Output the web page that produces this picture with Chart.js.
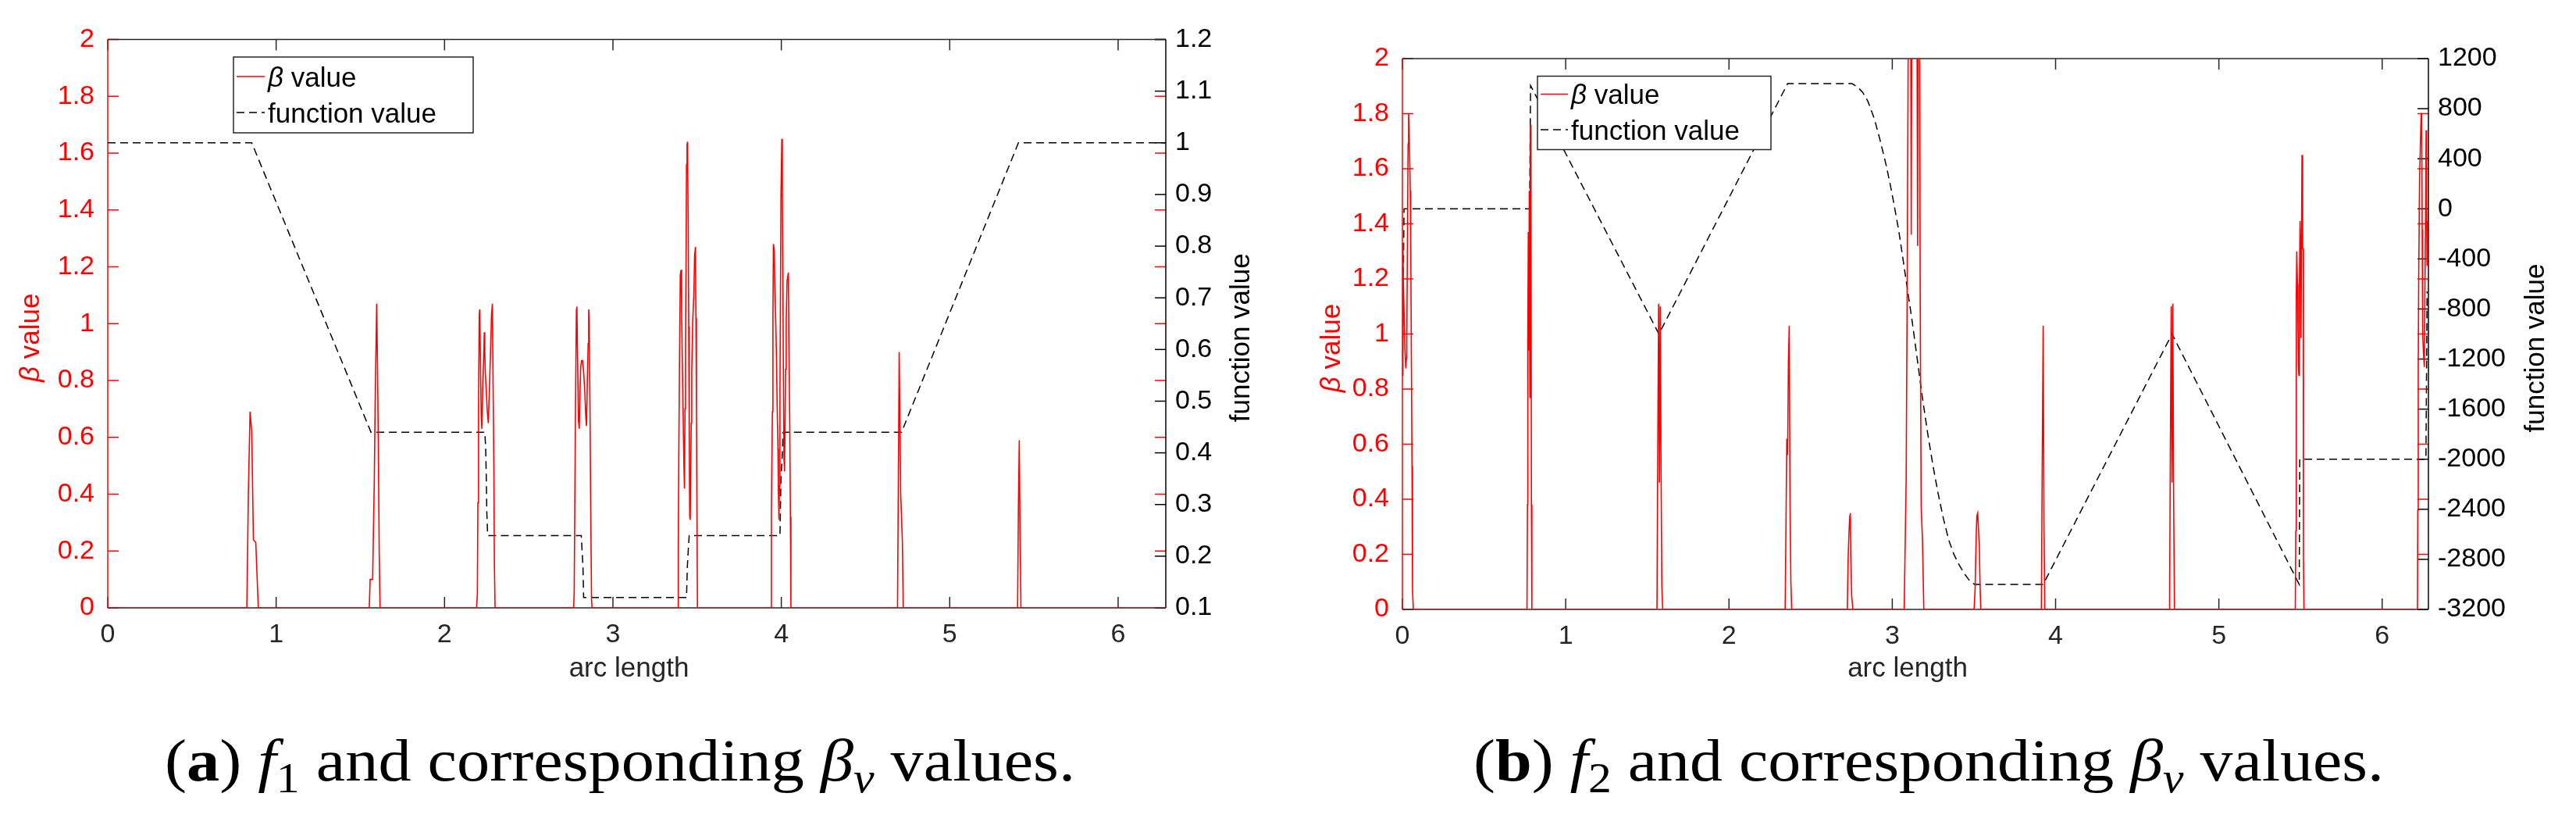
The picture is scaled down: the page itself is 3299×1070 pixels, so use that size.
<!DOCTYPE html>
<html><head><meta charset="utf-8">
<script src="https://cdn.jsdelivr.net/npm/chart.js@4.4.1/dist/chart.umd.min.js"></script>
<style>
html,body{margin:0;padding:0;background:#fff;width:3299px;height:1070px;overflow:hidden}
canvas{position:absolute;top:0}
#ca{left:0}
#cb{left:1650px}
</style></head><body>
<canvas id="ca" width="1650" height="1070"></canvas>
<canvas id="cb" width="1649" height="1070"></canvas>
<script>
// ---------- tick values ----------
const xTicks = [0, 1, 2, 3, 4, 5, 6];
const betaTicks = [0, 0.2, 0.4, 0.6, 0.8, 1, 1.2, 1.4, 1.6, 1.8, 2];
const funcTicksA = [0.1, 0.2, 0.3, 0.4, 0.5, 0.6, 0.7, 0.8, 0.9, 1, 1.1, 1.2];
const funcTicksB = [-3200, -2800, -2400, -2000, -1600, -1200, -800, -400, 0, 400, 800, 1200];
const X_MAX = 2 * Math.PI;

// ---------- (a) beta values [arc length, beta] ----------
const betaA = [
[0,0],[0.826,0],[0.835,0.40],[0.845,0.69],[0.855,0.62],[0.865,0.24],[0.879,0.23],[0.894,0],
[1.553,0],[1.558,0.10],[1.573,0.10],[1.583,0.45],[1.588,0.72],[1.597,1.07],[1.602,0.85],[1.607,0.56],[1.612,0.2],[1.617,0],
[2.19,0],[2.195,0.05],[2.198,0.37],[2.202,0.70],[2.206,1.03],[2.209,1.05],[2.212,0.92],[2.218,0.67],[2.222,0.63],[2.227,0.78],[2.233,0.89],[2.236,0.97],[2.239,0.90],[2.242,0.83],[2.248,0.76],[2.254,0.69],[2.260,0.65],[2.267,0.78],[2.273,0.90],[2.279,1.03],[2.284,1.07],[2.288,0.81],[2.293,0.49],[2.296,0.16],[2.300,0],
[2.767,0],[2.770,0.06],[2.774,0.39],[2.778,0.72],[2.783,1.05],[2.786,1.06],[2.789,0.93],[2.795,0.66],[2.800,0.63],[2.805,0.77],[2.809,0.85],[2.814,0.87],[2.820,0.87],[2.826,0.83],[2.833,0.76],[2.839,0.67],[2.843,0.64],[2.848,0.80],[2.853,0.93],[2.856,1.05],[2.859,1.01],[2.864,0.69],[2.868,0.35],[2.873,0.03],[2.876,0],
[3.386,0],[3.388,0.19],[3.391,0.52],[3.395,0.84],[3.400,1.17],[3.405,1.19],[3.408,1.05],[3.412,0.87],[3.417,0.67],[3.422,0.49],[3.425,0.42],[3.428,0.70],[3.431,0.93],[3.434,1.20],[3.437,1.56],[3.440,1.63],[3.443,1.64],[3.447,1.35],[3.450,0.99],[3.453,0.64],[3.456,0.32],[3.459,0.31],[3.462,0.48],[3.465,0.65],[3.468,0.83],[3.474,1.01],[3.481,1.11],[3.485,1.24],[3.490,1.27],[3.493,1.02],[3.496,0.69],[3.499,0.33],[3.502,0],
[3.940,0],[3.941,0.34],[3.947,0.69],[3.950,1.01],[3.953,1.28],[3.958,1.26],[3.961,1.15],[3.966,1.03],[3.971,0.89],[3.975,0.72],[3.980,0.56],[3.983,0.40],[3.986,0.31],[3.989,0.43],[3.992,0.76],[3.995,1.11],[3.998,1.45],[4.003,1.65],[4.006,1.48],[4.009,1.18],[4.012,0.84],[4.016,0.52],[4.019,0.48],[4.022,0.62],[4.025,0.84],[4.029,1.01],[4.034,1.15],[4.042,1.18],[4.045,0.92],[4.050,0.65],[4.054,0.32],[4.057,0],
[4.690,0],[4.700,0.90],[4.709,0.40],[4.719,0.23],[4.724,0],
[5.403,0],[5.408,0.36],[5.413,0.59],[5.418,0.25],[5.423,0],
[6.2832,0]
];
// ---------- (a) function value f1 [arc length, f] ----------
const funcA = [
[0,1],[0.855,1],[1.563,0.44],[2.239,0.44],[2.244,0.413],[2.248,0.35],[2.251,0.286],[2.256,0.24],
[2.812,0.24],[2.816,0.215],[2.822,0.18],[2.826,0.12],[3.437,0.12],[3.442,0.18],[3.448,0.215],[3.453,0.24],
[3.992,0.24],[3.998,0.35],[4.005,0.392],[4.011,0.44],[4.714,0.44],[5.408,1],[6.2832,1]
];

// ---------- (b) beta values ----------
const betaB = [
[0,0.85],[0.003,1.33],[0.006,1.19],[0.011,1.06],[0.016,0.94],[0.021,0.875],[0.024,0.91],[0.027,0.99],[0.030,1.26],[0.035,1.69],[0.038,1.80],[0.041,1.74],[0.045,1.63],[0.048,1.52],[0.051,1.34],[0.054,1.02],[0.059,0.52],[0.062,0.07],[0.067,0],
[0.763,0],[0.766,0.38],[0.768,0.95],[0.771,1.37],[0.774,0.94],[0.777,1.52],[0.781,0.77],[0.782,1.76],[0.784,0.80],[0.787,1.76],[0.790,0.38],[0.793,0],
[1.559,0],[1.564,0.6],[1.569,1.11],[1.574,0.46],[1.579,1.10],[1.584,0.5],[1.589,0.08],[1.594,0],
[2.344,0],[2.349,0.3],[2.354,0.62],[2.359,0.56],[2.364,0.9],[2.369,1.03],[2.374,0.37],[2.379,0.1],[2.384,0],
[2.722,0],[2.725,0.02],[2.730,0.19],[2.735,0.28],[2.740,0.34],[2.743,0.35],[2.746,0.19],[2.751,0.05],[2.759,0],
[3.073,0],[3.078,0.20],[3.085,0.47],[3.091,1.13],[3.096,1.82],[3.100,2.5],[3.105,2.5],[3.112,2.5],[3.116,1.36],[3.121,2.5],[3.150,2.5],[3.155,1.32],[3.159,2.5],[3.166,2.5],[3.171,1.13],[3.177,0.375],[3.185,0.25],[3.193,0],
[3.501,0],[3.507,0.07],[3.514,0.27],[3.518,0.34],[3.523,0.35],[3.528,0.29],[3.533,0.23],[3.537,0.10],[3.542,0],
[3.913,0],[3.918,0.5],[3.924,1.03],[3.929,0.3],[3.934,0],
[4.698,0],[4.703,0.6],[4.708,1.10],[4.713,0.46],[4.718,1.11],[4.723,0.4],[4.728,0],
[5.468,0],[5.471,0.285],[5.474,1.13],[5.477,1.30],[5.481,1.18],[5.484,1.04],[5.487,0.88],[5.490,0.85],[5.493,1.15],[5.497,1.41],[5.500,1.31],[5.503,0.985],[5.506,1.31],[5.509,1.65],[5.513,1.31],[5.516,1.31],[5.518,0.195],[5.521,0],
[6.216,0],[6.218,0.36],[6.221,0.88],[6.224,1.24],[6.229,1.56],[6.234,1.69],[6.239,1.80],[6.242,1.80],[6.245,1.38],[6.248,1.0],[6.253,0.93],[6.258,0.88],[6.263,1.25],[6.266,1.45],[6.269,1.74],[6.272,1.45],[6.275,1.25],[6.278,1.41],[6.2832,1.2]
];
// ---------- (b) function value f2 ----------
const funcB = [
[0,-1330],[0.01,0],[0.779,0],[0.785,985],[1.571,-1000],[2.359,1000],[2.754,1000],[2.786,974],[2.818,932],[2.850,861],
[2.890,720],[2.925,550],[2.962,352],[2.989,183],[3.010,41],[3.041,-185],[3.073,-467],[3.097,-680],[3.121,-891],
[3.153,-1202],[3.185,-1513],[3.217,-1795],[3.249,-2050],[3.281,-2276],[3.313,-2474],[3.345,-2643],[3.376,-2756],
[3.408,-2841],[3.440,-2912],[3.472,-2968],[3.504,-3000],[3.924,-3000],[4.713,-1000],[5.492,-3000],[5.495,-2000],
[6.268,-2000],[6.275,-660]
];

const SANS = '"Liberation Sans", Arial, Helvetica, sans-serif';
const SERIF = '"Liberation Serif", "Times New Roman", serif';
const RED = '#ff0000';
const AX = '#262626';

function fmt1(v){ return String(parseFloat(Number(v).toFixed(1))); }
function fmt0(v){ return String(Math.round(v)); }

function seg(ctx,x0,y0,x1,y1){ ctx.beginPath(); ctx.moveTo(x0,y0); ctx.lineTo(x1,y1); ctx.stroke(); }

function drawParts(ctx, parts, x, y, align){
  let w = 0;
  parts.forEach(p => { ctx.font = p.f; p.w = ctx.measureText(p.t).width; w += p.w; });
  let cx = align === 'center' ? x - w/2 : x;
  parts.forEach(p => { ctx.font = p.f; ctx.fillText(p.t, cx, y + (p.dy || 0)); cx += p.w; });
  return w;
}

function betaParts(size){
  return [{t:'\u03B2', f:'italic ' + size + 'px ' + SANS}, {t:' value', f:size + 'px ' + SANS}];
}

function makeChart(spec){
  const a = spec.area;
  const plugin = {
    id: 'frame' + spec.id,
    beforeDatasetsDraw(chart){
      const ctx = chart.ctx, ca = chart.chartArea, s = chart.scales;
      const TL = 14;
      ctx.save();
      ctx.lineWidth = 1.5;
      ctx.strokeStyle = AX;
      xTicks.forEach(v => { const p = s.x.getPixelForValue(v); seg(ctx,p,ca.bottom,p,ca.bottom-TL); seg(ctx,p,ca.top,p,ca.top+TL); });
      ctx.strokeStyle = RED;
      betaTicks.forEach(v => { const p = s.yL.getPixelForValue(v); seg(ctx,ca.left,p,ca.left+TL,p); seg(ctx,ca.right-TL,p,ca.right,p); });
      ctx.strokeStyle = '#000';
      spec.funcTicks.forEach(v => { const p = s.yR.getPixelForValue(v); seg(ctx,ca.right-TL,p,ca.right,p); });
      ctx.strokeStyle = AX;
      seg(ctx,ca.left,ca.top,ca.right,ca.top);
      seg(ctx,ca.left,ca.bottom,ca.right,ca.bottom);
      ctx.strokeStyle = '#000';
      seg(ctx,ca.right,ca.top,ca.right,ca.bottom);
      ctx.strokeStyle = RED;
      seg(ctx,ca.left,ca.top,ca.left,ca.bottom);
      ctx.restore();
    },
    afterDraw(chart){
      const ctx = chart.ctx, ca = chart.chartArea;
      const cy = (ca.top + ca.bottom)/2 + 18;
      ctx.save();
      ctx.textBaseline = 'middle';
      // left axis title
      ctx.save(); ctx.translate(spec.leftTitleX, cy); ctx.rotate(-Math.PI/2);
      ctx.fillStyle = RED; drawParts(ctx, betaParts(35), 0, 0, 'center'); ctx.restore();
      // right axis title
      ctx.save(); ctx.translate(spec.rightTitleX, cy); ctx.rotate(-Math.PI/2);
      ctx.fillStyle = '#000'; drawParts(ctx, [{t:'function value', f:'35px ' + SANS}], 0, 0, 'center'); ctx.restore();
      // x axis title
      ctx.textBaseline = 'alphabetic';
      ctx.fillStyle = AX;
      drawParts(ctx, [{t:'arc length', f:'35px ' + SANS}], (ca.left + ca.right)/2 - 10, 866, 'center');
      // legend
      const L = spec.legend;
      ctx.fillStyle = '#fff'; ctx.fillRect(L.x, L.y, L.w, L.h);
      ctx.lineWidth = 1.5; ctx.strokeStyle = AX; ctx.strokeRect(L.x, L.y, L.w, L.h);
      ctx.strokeStyle = RED; ctx.lineWidth = 1.6; seg(ctx, L.lx0, L.r1, L.lx1, L.r1);
      ctx.strokeStyle = '#000'; ctx.lineWidth = 1.5; ctx.setLineDash([10,6]); seg(ctx, L.lx0, L.r2, L.lx1, L.r2); ctx.setLineDash([]);
      ctx.fillStyle = '#000';
      drawParts(ctx, betaParts(35), L.tx, L.r1 + 12.7, 'left');
      drawParts(ctx, [{t:'function value', f:'35px ' + SANS}], L.tx, L.r2 + 12.7, 'left');
      // caption
      const C = spec.caption, fs = 76, ss = 54;
      const parts = [
        {t:'(', f:fs + 'px ' + SERIF},
        {t:C.label, f:'bold ' + fs + 'px ' + SERIF},
        {t:') ', f:fs + 'px ' + SERIF},
        {t:'f', f:'italic ' + fs + 'px ' + SERIF},
        {t:C.sub, f:ss + 'px ' + SERIF, dy:15},
        {t:' and corresponding ', f:fs + 'px ' + SERIF},
        {t:'\u03B2', f:'italic ' + fs + 'px ' + SERIF},
        {t:'v', f:'italic ' + ss + 'px ' + SERIF, dy:15},
        {t:' values.', f:fs + 'px ' + SERIF}
      ];
      let w = 0;
      parts.forEach(p => { ctx.font = p.f; w += ctx.measureText(p.t).width; });
      ctx.save();
      ctx.translate(C.x, C.y); ctx.scale(C.w / w, 1);
      ctx.fillStyle = '#000';
      drawParts(ctx, parts, 0, 0, 'left');
      ctx.restore();
      ctx.restore();
    }
  };

  const tickFont = {family: SANS, size: 34};
  return new Chart(document.getElementById(spec.canvas), {
    type: 'line',
    data: {
      datasets: [
        {label: '\u03B2 value', data: spec.beta.map(([x,y]) => ({x, y})), yAxisID: 'yL',
         borderColor: RED, borderWidth: 1.6, pointRadius: 0, tension: 0, fill: false, order: 1},
        {label: 'function value', data: spec.func.map(([x,y]) => ({x, y})), yAxisID: 'yR',
         borderColor: '#000', borderWidth: 1.5, borderDash: [10,6], pointRadius: 0, tension: 0, fill: false, order: 2}
      ]
    },
    options: {
      responsive: false, animation: false, events: [],
      layout: {padding: {top: a.top, left: 0, right: 0, bottom: 0}},
      plugins: {legend: {display: false}, tooltip: {enabled: false}},
      scales: {
        x: {type: 'linear', position: 'bottom', min: 0, max: X_MAX,
            grid: {display: false, drawTicks: false}, border: {display: false},
            ticks: {font: tickFont, color: AX, padding: 14, maxRotation: 0, autoSkip: false, includeBounds: false, callback: v => fmt0(v)},
            afterBuildTicks: s => { s.ticks = xTicks.map(v => ({value: v})); },
            afterFit: s => { s.height = spec.H - a.bottom; }},
        yL: {type: 'linear', position: 'left', min: 0, max: 2,
            grid: {display: false, drawTicks: false}, border: {display: false},
            ticks: {font: tickFont, color: RED, padding: 17, autoSkip: false, callback: v => fmt1(v)},
            afterBuildTicks: s => { s.ticks = betaTicks.map(v => ({value: v})); },
            afterFit: s => { s.width = a.left; }},
        yR: {type: 'linear', position: 'right', min: spec.funcMin, max: spec.funcMax,
            grid: {display: false, drawTicks: false}, border: {display: false},
            ticks: {font: tickFont, color: '#000', padding: 12, autoSkip: false, callback: v => spec.funcFmt(v)},
            afterBuildTicks: s => { s.ticks = spec.funcTicks.map(v => ({value: v})); },
            afterFit: s => { s.width = spec.W - a.right; }}
      }
    },
    plugins: [plugin]
  });
}

makeChart({
  id: 'A', canvas: 'ca', W: 1650, H: 1070,
  area: {left: 138, right: 1493, top: 50.5, bottom: 778},
  beta: betaA, func: funcA, funcMin: 0.1, funcMax: 1.2, funcTicks: funcTicksA, funcFmt: fmt1,
  leftTitleX: 40, rightTitleX: 1590,
  legend: {x: 299, y: 73, w: 307, h: 97, r1: 98, r2: 144, lx0: 303, lx1: 339, tx: 343},
  caption: {label: 'a', sub: '1', x: 211, w: 1166, y: 999}
});
makeChart({
  id: 'B', canvas: 'cb', W: 1649, H: 1070,
  area: {left: 146, right: 1460, top: 75, bottom: 780},
  beta: betaB, func: funcB, funcMin: -3200, funcMax: 1200, funcTicks: funcTicksB, funcFmt: fmt0,
  leftTitleX: 56, rightTitleX: 1598,
  legend: {x: 319, y: 97.5, w: 299, h: 94, r1: 120.5, r2: 166, lx0: 323, lx1: 358, tx: 362},
  caption: {label: 'b', sub: '2', x: 237, w: 1166, y: 999}
});
</script>
</body></html>
